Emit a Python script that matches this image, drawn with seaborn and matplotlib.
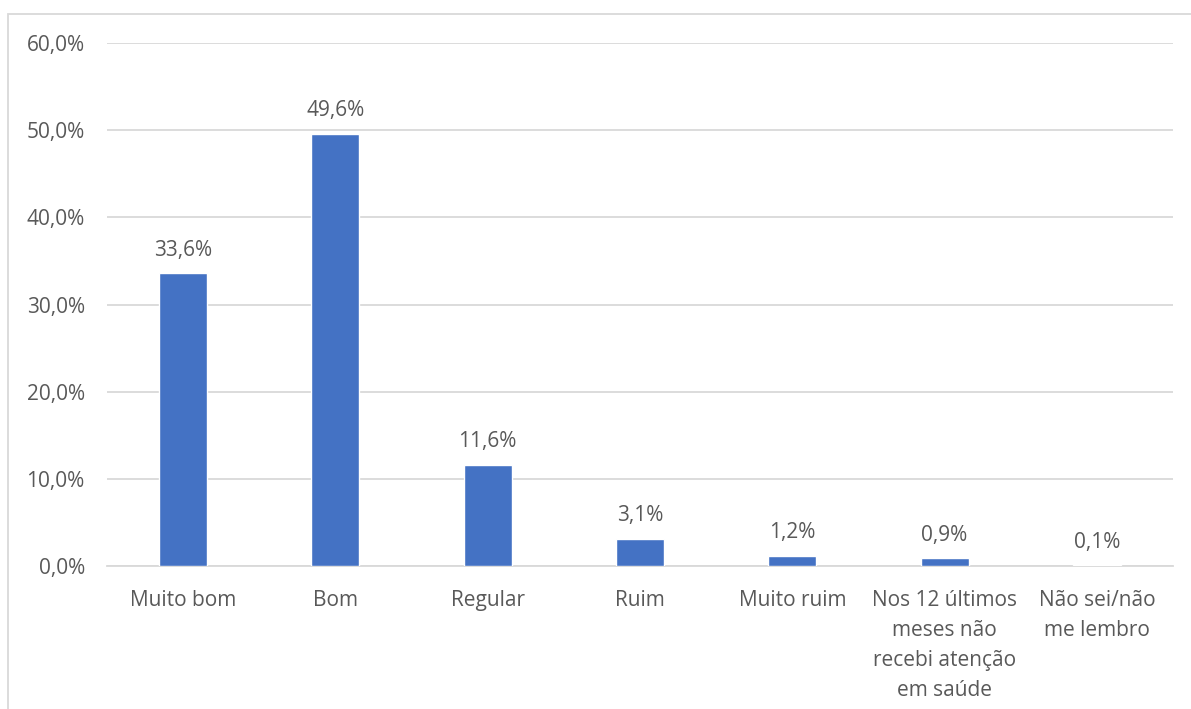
import matplotlib
matplotlib.use("Agg")
import matplotlib.pyplot as plt
from matplotlib.patches import Rectangle
from matplotlib.ticker import FuncFormatter, MultipleLocator
import seaborn as sns
import pandas as pd

categories = [
    "Muito bom",
    "Bom",
    "Regular",
    "Ruim",
    "Muito ruim",
    "Nos 12 últimos\nmeses não\nrecebi atenção\nem saúde",
    "Não sei/não\nme lembro",
]
values = [33.6, 49.6, 11.6, 3.1, 1.2, 0.9, 0.1]

df = pd.DataFrame({"categoria": categories, "pct": values})

sns.set_theme(style="white")
plt.rcParams["font.family"] = ["Open Sans", "DejaVu Sans"]

text_color = "#595959"
grid_color = "#D9D9D9"
bar_color = "#4472C4"
fs = 15

fig = plt.figure(figsize=(11.91, 7.09), dpi=100)
W, H = 1191, 709
ax = fig.add_axes([107 / W, 1 - 566 / H, (1173 - 107) / W, (566 - 43) / H])

sns.barplot(data=df, x="categoria", y="pct", color=bar_color, width=0.315,
            saturation=1, ax=ax, zorder=3)

ax.set_ylim(0, 60)
ax.set_xlim(-0.5, len(categories) - 0.5)
ax.yaxis.set_major_locator(MultipleLocator(10))
ax.yaxis.set_major_formatter(FuncFormatter(lambda v, _: f"{v:.1f}%".replace(".", ",")))
ax.grid(axis="y", color=grid_color, linewidth=1.3, zorder=0)
ax.set_axisbelow(True)
for side in ["top", "right", "left"]:
    ax.spines[side].set_visible(False)
ax.spines["bottom"].set_color(grid_color)
ax.spines["bottom"].set_linewidth(1.3)
ax.tick_params(axis="both", length=0, labelsize=fs, labelcolor=text_color)
ax.tick_params(axis="y", pad=16)
ax.tick_params(axis="x", pad=17)
ax.set_xlabel("")
ax.set_ylabel("")
for lbl in ax.get_xticklabels():
    lbl.set_linespacing(1.58)

for i, v in enumerate(values):
    ax.annotate(f"{v:.1f}%".replace(".", ","), (i, v), xytext=(0, 9),
                textcoords="offset points", ha="center", va="bottom",
                fontsize=fs, color=text_color)

# chart frame
fig.patches.append(Rectangle((8 / W, -0.05), 1.2, 1 - 14 / H + 0.05,
                             transform=fig.transFigure, fill=False,
                             edgecolor=grid_color, linewidth=1.3))

fig.savefig("out.png", dpi=100, facecolor="white")
